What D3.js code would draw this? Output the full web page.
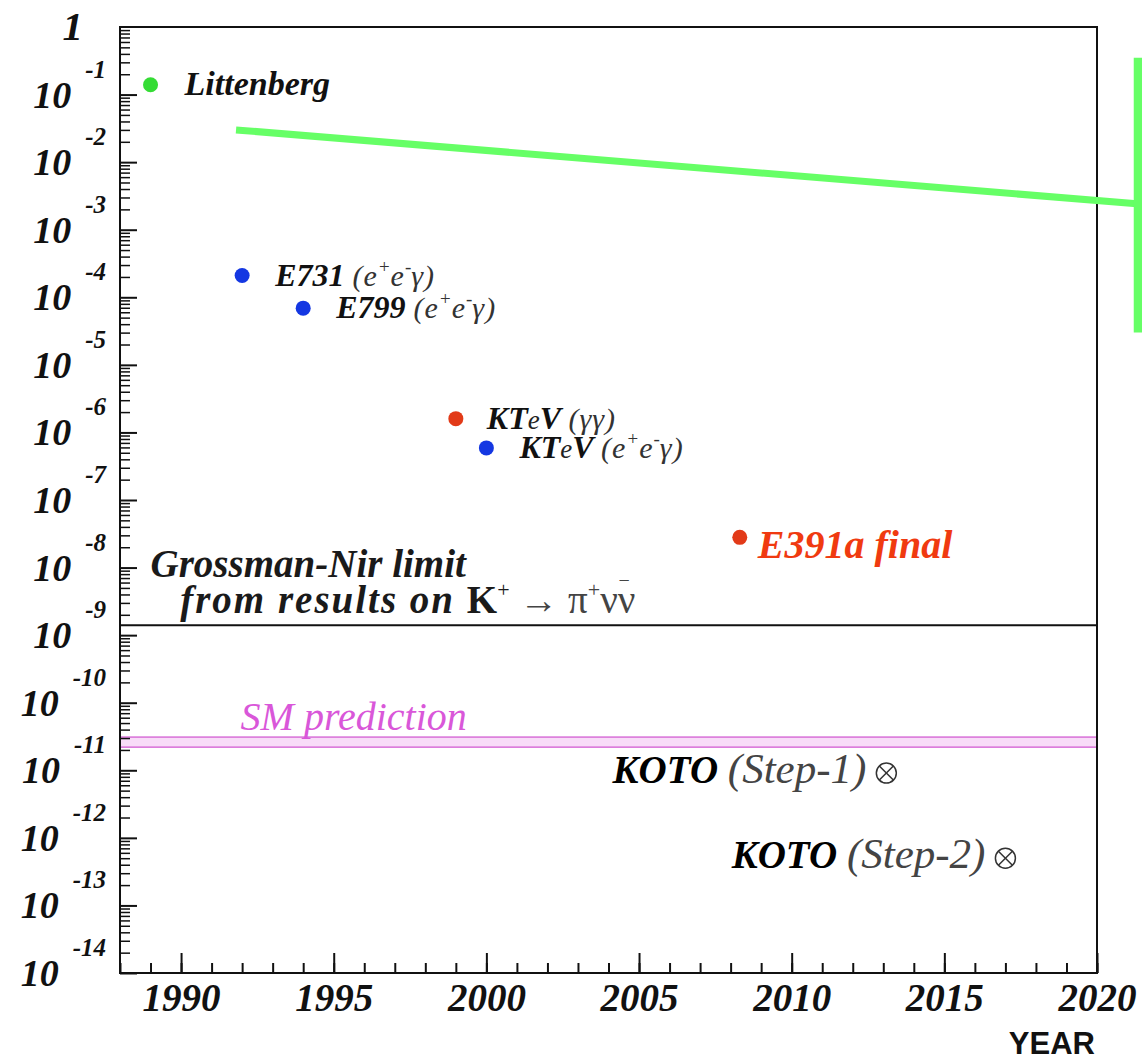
<!DOCTYPE html>
<html>
<head>
<meta charset="utf-8">
<script src="https://cdn.jsdelivr.net/npm/d3@7"></script>
<style>
body { margin: 0; background: #fff; }
text { font-family: "Liberation Serif", "Times New Roman", serif; }
</style>
</head>
<body>
<script>
var width = 1142;
var height = 1060;
var margin = {top: 27, right: 45, bottom: 87, left: 120};
var w = width - margin.left - margin.right;
var h = height - margin.top - margin.bottom;

// measured upper limits, one entry per experiment
var experiments = ["Littenberg", "E731", "E799", "KTeV (γγ)", "KTeV (e+e-γ)", "E391a final"];
var years = [1989, 1992, 1994, 1999, 2000, 2008.3];
var limits = [1.4e-1, 2.1e-4, 6.9e-5, 1.6e-6, 5.9e-7, 2.8e-8];
var kinds = ["green", "blue", "blue", "red", "blue", "red"];

// KOTO sensitivity goals
var kotoSteps = ["Step-1", "Step-2"];
var kotoYears = [2013.1, 2017];
var kotoLimits = [9.1e-12, 5.0e-13];

// horizontal references
var grossmanNir = 1.4e-9;
var smBand = [2.2e-11, 3.1e-11];

// green trend line and bar
var trendYears = [1991.8, 2021.4];
var trendValues = [3.0e-2, 2.4e-3];
var barYear = 2021.4;
var barRange = [3.5e-1, 3.0e-5];

var yearTicks = [1990, 1995, 2000, 2005, 2010, 2015, 2020];
var decades = d3.range(-14, 0); // 10^-14 .. 10^-1

var col = {green: "#35dc35", blue: "#1437e2", red: "#e23a18"};

var svg = d3.select("body").append("svg")
    .attr("width", width)
    .attr("height", height)
  .append("g")
    .attr("transform", "translate(" + margin.left + "," + margin.top + ")");

var x = d3.scaleLinear()
    .domain([1988, 2020])
    .range([0, w]);

var y = d3.scaleLog()
    .domain([1e-14, 1])
    .range([h, 0]);

// SM prediction band
svg.append("rect")
    .attr("x", 0)
    .attr("width", w)
    .attr("y", y(smBand[1]))
    .attr("height", y(smBand[0]) - y(smBand[1]))
    .style("fill", "#f8dcf8")
    .style("stroke", "#d870d8")
    .style("stroke-width", 1.5);

svg.append("text")
    .attr("x", x(1991.95))
    .attr("y", y(smBand[1]) - 7)
    .style("font-size", "40px")
    .style("font-style", "italic")
    .style("fill", "#d957d9")
    .text("SM prediction");

// Grossman-Nir limit
svg.append("line")
    .attr("x1", 0).attr("x2", w)
    .attr("y1", y(grossmanNir)).attr("y2", y(grossmanNir))
    .style("stroke", "#111")
    .style("stroke-width", 2);

svg.append("text")
    .attr("x", x(1989))
    .attr("y", y(grossmanNir) - 48)
    .style("font-size", "39px")
    .style("font-style", "italic")
    .style("font-weight", "bold")
    .style("fill", "#1a1a1a")
    .text("Grossman-Nir limit");

var gn2 = svg.append("text")
    .attr("x", x(1989.97))
    .attr("y", y(grossmanNir) - 12)
    .style("font-size", "39px")
    .style("fill", "#1a1a1a");
gn2.append("tspan").style("font-style", "italic").style("font-weight", "bold").style("letter-spacing", "2px").text("from results on ");
gn2.append("tspan").style("font-weight", "bold").text("K");
gn2.append("tspan").attr("dy", -16).style("font-size", "22px").text("+");
gn2.append("tspan").attr("dy", 16).style("fill", "#444").text(" → π");
gn2.append("tspan").attr("dy", -16).style("font-size", "22px").style("fill", "#444").text("+");
gn2.append("tspan").attr("dy", 16).style("fill", "#444").text("νν");
gn2.append("tspan").attr("dx", -17).attr("dy", -26).style("font-size", "20px").style("fill", "#444").text("−");

// axes: major and minor ticks pointing inwards
var minorY = [];
decades.forEach(function(n) {
  for (var k = 2; k <= 9; k++) minorY.push(k * Math.pow(10, n));
});

svg.append("g")
    .call(d3.axisLeft(y).tickValues(decades.map(function(n) { return Math.pow(10, n); })).tickSize(-17).tickFormat(""))
    .call(function(g) { g.select(".domain").remove(); })
    .selectAll("line").style("stroke", "#111").style("stroke-width", 2);

svg.append("g")
    .call(d3.axisLeft(y).tickValues(minorY).tickSize(-10).tickFormat(""))
    .call(function(g) { g.select(".domain").remove(); })
    .selectAll("line").style("stroke", "#111").style("stroke-width", 1.5);

var yLab = svg.append("g");
decades.forEach(function(n) {
  var t = yLab.append("text")
      .attr("x", -14)
      .attr("y", y(Math.pow(10, n)) + 13)
      .attr("text-anchor", "end")
      .style("font-size", "38px")
      .style("font-style", "italic")
      .style("font-weight", "bold")
      .style("fill", "#111");
  t.append("tspan").text("10");
  t.append("tspan").attr("dx", 14).attr("dy", -30).style("font-size", "25px").text(n);
});
yLab.append("text")
    .attr("x", -37)
    .attr("y", y(1) + 13)
    .attr("text-anchor", "end")
    .style("font-size", "41px")
    .style("font-style", "italic")
    .style("font-weight", "bold")
    .style("fill", "#111")
    .text("1");

svg.append("g")
    .attr("transform", "translate(0," + h + ")")
    .call(d3.axisBottom(x).tickValues(d3.range(1988, 2021)).tickSize(-10).tickFormat(""))
    .call(function(g) { g.select(".domain").remove(); })
    .selectAll("line").style("stroke", "#111").style("stroke-width", 2);

var xAxis = svg.append("g")
    .attr("transform", "translate(0," + h + ")")
    .call(d3.axisBottom(x).tickValues(yearTicks).tickSize(-20).tickPadding(10).tickFormat(d3.format("d")))
    .call(function(g) { g.select(".domain").remove(); });
xAxis.selectAll("line").style("stroke", "#111").style("stroke-width", 2);
xAxis.selectAll("text")
    .style("font-family", "'Liberation Serif', serif")
    .style("font-size", "39px")
    .style("font-style", "italic")
    .style("font-weight", "bold")
    .style("fill", "#111");

svg.append("text")
    .attr("x", w - 2)
    .attr("y", h + 81)
    .attr("text-anchor", "end")
    .style("font-family", "'Liberation Sans', Arial, sans-serif")
    .style("font-size", "31px")
    .style("font-weight", "bold")
    .style("fill", "#111")
    .text("YEAR");

// frame
svg.append("rect")
    .attr("width", w)
    .attr("height", h)
    .style("fill", "none")
    .style("stroke", "#111")
    .style("stroke-width", 2);

// green trend line with its end bar
svg.append("line")
    .attr("x1", x(trendYears[0])).attr("y1", y(trendValues[0]))
    .attr("x2", x(trendYears[1])).attr("y2", y(trendValues[1]))
    .style("stroke", "#66ff66")
    .style("stroke-width", 7);

svg.append("line")
    .attr("x1", x(barYear)).attr("x2", x(barYear))
    .attr("y1", y(barRange[0])).attr("y2", y(barRange[1]))
    .style("stroke", "#66ff66")
    .style("stroke-width", 12);

// experiment points
svg.selectAll("circle.exp")
    .data(experiments)
  .enter().append("circle")
    .attr("class", "exp")
    .attr("cx", function(d, i) { return x(years[i]); })
    .attr("cy", function(d, i) { return y(limits[i]); })
    .attr("r", 7.5)
    .style("fill", function(d, i) { return col[kinds[i]]; });

// label pieces: [text, style]; b = bold italic, r = plain italic, u = superscript
var labelParts = {
  "Littenberg": [["Littenberg", "big"]],
  "E731": [["E731 ", "b"], ["(e", "r"], ["+", "u"], ["e", "r"], ["-", "u"], ["γ)", "r"]],
  "E799": [["E799 ", "b"], ["(e", "r"], ["+", "u"], ["e", "r"], ["-", "u"], ["γ)", "r"]],
  "KTeV (γγ)": [["KT", "b"], ["e", "e"], ["V ", "b"], ["(γγ)", "r"]],
  "KTeV (e+e-γ)": [["KT", "b"], ["e", "e"], ["V ", "b"], ["(e", "r"], ["+", "u"], ["e", "r"], ["-", "u"], ["γ)", "r"]],
  "E391a final": [["E391a final", "red"]]
};
var labelOffset = {
  "Littenberg": [34, 10], "E731": [33, 10], "E799": [33, 10],
  "KTeV (γγ)": [31, 10], "KTeV (e+e-γ)": [33, 10], "E391a final": [18, 21]
};

function addParts(t, parts) {
  var up = 0;
  parts.forEach(function(p) {
    var s = t.append("tspan").text(p[0]);
    var shift = p[1] == "u" ? -13 : 0;
    if (shift != up) { s.attr("dy", shift - up); up = shift; }
    if (p[1] == "big") s.style("font-weight", "bold").style("font-size", "34px").style("fill", "#111");
    if (p[1] == "b") s.style("font-weight", "bold").style("font-size", "32px").style("fill", "#111");
    if (p[1] == "e") s.style("font-size", "27px").style("fill", "#222");
    if (p[1] == "r") s.style("font-size", "30px").style("fill", "#333").style("letter-spacing", "1px");
    if (p[1] == "u") s.style("font-size", "19px").style("fill", "#333");
    if (p[1] == "red") s.style("font-weight", "bold").style("font-size", "40px").style("fill", "#f03a10");
  });
}

experiments.forEach(function(d, i) {
  var key = d.indexOf("E731") == 0 ? "E731" : d.indexOf("E799") == 0 ? "E799" : d;
  var t = svg.append("text")
      .attr("x", x(years[i]) + labelOffset[key][0])
      .attr("y", y(limits[i]) + labelOffset[key][1])
      .style("font-style", "italic");
  addParts(t, labelParts[key]);
});

// KOTO markers (circle with a cross) and labels
kotoSteps.forEach(function(d, i) {
  var cx = x(kotoYears[i]), cy = y(kotoLimits[i]), r = 10;
  var g = svg.append("g").style("stroke", "#333").style("stroke-width", 1.5).style("fill", "none");
  g.append("circle").attr("cx", cx).attr("cy", cy).attr("r", r);
  var k = r * 0.7;
  g.append("line").attr("x1", cx - k).attr("y1", cy - k).attr("x2", cx + k).attr("y2", cy + k);
  g.append("line").attr("x1", cx - k).attr("y1", cy + k).attr("x2", cx + k).attr("y2", cy - k);

  var t = svg.append("text")
      .attr("x", cx - 20)
      .attr("y", cy + 10)
      .attr("text-anchor", "end")
      .style("font-style", "italic")
      .style("font-size", "39px");
  t.append("tspan").style("font-weight", "bold").style("fill", "#000").text("KOTO ");
  t.append("tspan").style("fill", "#444").style("font-size", "43px").text("(" + d + ")");
});
</script>
</body>
</html>
